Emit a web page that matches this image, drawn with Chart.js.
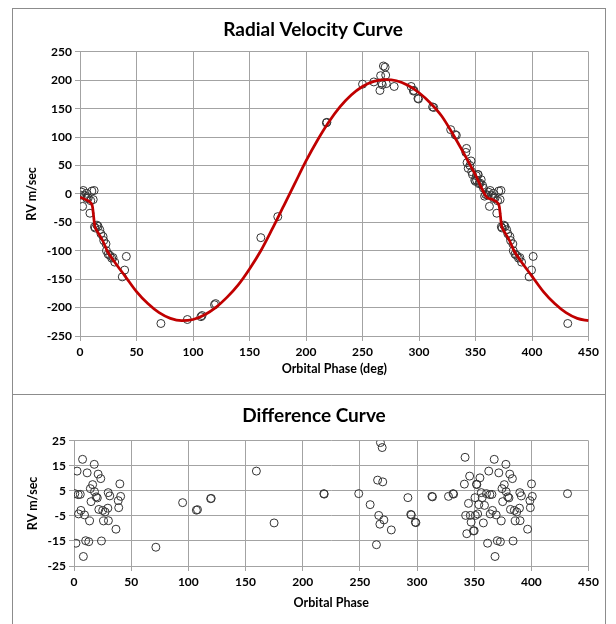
<!DOCTYPE html>
<html>
<head>
<meta charset="utf-8">
<script src="https://cdn.jsdelivr.net/npm/chart.js@4.4.1/dist/chart.umd.min.js"></script>
<style>
    html, body {
        margin: 0;
        padding: 0;
        background: #ffffff;
        width: 616px;
        height: 624px;
        overflow: hidden;
    }
    .chart-box {
        position: absolute;
        left: 12px;
        width: 592px;
        border: 1px solid #8c8c8c;
        background: #ffffff;
    }
    #top-box { top: 8px; height: 385px; }
    #bottom-box { top: 394px; height: 250px; }
    canvas { display: block; }
</style>
</head>
<body>
<div class="chart-box" id="top-box"><canvas id="rv-chart" width="590" height="384"></canvas></div>
<div class="chart-box" id="bottom-box"><canvas id="diff-chart" width="590" height="240"></canvas></div>
<script>
// Model curve
const curvePhase = [0, 5, 10, 11, 13, 16, 20, 24, 30, 40, 50, 60, 70, 80, 90, 100, 110, 120, 130, 140,
    150, 160, 170, 180, 190, 200, 210, 220, 230, 240, 250, 260, 270, 280, 290, 300, 310, 320, 330, 340,
    350, 360, 365, 370, 371, 373, 376, 380, 384, 390, 400, 410, 420, 430, 440, 450];
const curveRV = [-6, -10, -17, -22, -55, -68, -82, -100, -118, -145, -172, -193, -209, -219, -223, -221, -213, -200, -182, -160,
    -132, -100, -62, -22, 18, 58, 94, 126, 153, 174, 189, 198, 201, 199, 191, 178, 160, 137, 105, 70,
    33, -6, -10, -17, -22, -55, -68, -82, -100, -118, -145, -172, -193, -209, -219, -223];

// Observed radial velocities
const obsPhase = [0.6, 1.5, 2.3, 2.9, 4.0, 5.8, 6.0, 7.3, 8.8, 9.5, 10.5, 11.7, 12.5, 12.8, 13.5, 15.0, 16.0, 17.5, 18.5, 20.4,
    21.0, 23.0, 23.4, 24.9, 26.3, 28.0, 29.2, 30.7, 37.4, 39.5, 41.0,
    71.6, 95, 107, 108, 119, 120, 160, 175, 218, 218.5, 250, 260, 265.4, 266, 266.8, 267.5, 268.5, 270, 270.5,
    271, 278, 293, 295, 295.5, 299, 299.5, 312, 313, 328, 332, 333,
    341.4, 342, 342.5, 343.5, 345, 346, 346.6, 347.3, 349.3, 350, 350.7, 351, 352, 352.3, 353, 354, 355, 356.2, 357, 358, 359,
    360.6, 361.5, 362.3, 362.9, 364.0, 365.8, 366.0, 367.3, 368.8, 369.5, 370.5, 371.7, 372.5, 372.8, 373.5, 375.0, 376.0,
    377.5, 378.5, 380.4, 381.0, 383.0, 383.4, 384.9, 386.3, 388.0, 389.2, 390.7, 397.4, 399.5, 401.0, 431.6];
const obsRV = [-2, 3, -22, 6, -3, 1, -8, -7, -34, -12, 5, -10, 6, -58, -60, -55, -57, -63, -70, -75,
    -82, -88, -100, -106, -108, -113, -112, -120, -146, -134, -110,
    -228, -221, -216, -214, -195, -193, -77, -40, 125, 126, 193, 197, 182, 208, 195, 192, 225, 223, 209,
    194, 189, 189, 181, 182, 168, 167, 153, 152, 113, 104, 103,
    73, 80, 55, 45, 50, 58, 39, 34, 24, 22, 32, 24, 34, 34, 18, 19, 25, 15, 10, -4, -1,
    -2, 3, -22, 6, -3, 1, -8, -7, -34, -12, 5, -10, 6, -58, -60, -55, -57,
    -63, -70, -75, -82, -88, -100, -106, -108, -113, -112, -120, -146, -134, -110, -228];

// Residuals (observed - model)
const diffPhase = [0.7, 1.7, 2.7, 3.7, 4.0, 5.5, 6.0, 7.5, 8.2, 9.2, 10.2, 11.5, 12.9, 13.6, 14.3, 14.9, 16.3, 17.7, 17.9, 19.4,
    20.4, 21.1, 21.7, 23.4, 24.0, 25.1, 25.8, 27.2, 29.6, 29.9, 30.1, 31.3, 36.7, 38.7, 39.1, 40.1, 40.8,
    71.6, 95, 107, 108, 119.5, 120, 159.5, 175, 218.5, 218.8, 249, 259, 264.5, 265.5, 266.5, 267.5, 268, 269.5, 270,
    271, 277.5, 292, 294.5, 295, 298.5, 299, 313, 313.5, 327.5, 331.5, 332,
    341.4, 342, 342.5, 343.5, 345, 346, 346.6, 347.3, 349.3, 350, 350.7, 351, 352, 352.3, 353, 354, 355, 356.2, 357, 358, 359,
    360.7, 361.7, 362.7, 363.7, 364.0, 365.5, 366.0, 367.5, 368.2, 369.2, 370.2, 371.5, 372.9, 373.6, 374.3, 374.9, 376.3,
    377.7, 377.9, 379.4, 380.4, 381.1, 381.7, 383.4, 384.0, 385.1, 385.8, 387.2, 389.6, 389.9, 390.1, 391.3, 396.7, 398.7,
    399.1, 400.1, 400.8, 431.6];
const diffRV = [3.9, -15.9, 12.9, 3.5, -4.2, 3.6, -2.8, 17.6, -21.2, -4.6, -14.9, 12.2, -15.3, -7.0, 5.9, 0.7, 7.5, 15.6, 4.7, 2.6,
    2.2, 11.7, -2.4, 9.9, -15.0, -2.8, -7.0, -3.4, -1.9, 4.3, -6.9, 3.0, -10.3, 1.1, -1.7, 7.8, 2.8,
    -17.5, 0.3, -2.7, -2.5, 1.9, 2.0, 12.9, -7.8, 3.9, 3.7, 3.9, -0.5, -16.5, 9.3, -4.8, -8.3, 24.3, 22.3, 8.6,
    -6.6, -10.6, 2.3, -4.4, -4.6, -7.5, -7.7, 2.8, 2.6, 2.8, 3.9, 3.7,
    7.7, 18.4, -4.8, -12.1, 0, 10.9, -4.8, -7.5, -11, -10.9, 2.3, -4.8, 7.7, 7.5, -4.2, -0.5, 10.2, 4.3, 2.3, -7.8, -0.8,
    3.9, -15.9, 12.9, 3.5, -4.2, 3.6, -2.8, 17.6, -21.2, -4.6, -14.9, 12.2, -15.3, -7.0, 5.9, 0.7, 7.5,
    15.6, 4.7, 2.6, 2.2, 11.7, -2.4, 9.9, -15.0, -2.8, -7.0, -3.4, -1.9, 4.3, -6.9, 3.0, -10.3, 1.1,
    -1.7, 7.8, 2.8, 3.9];

// Axis ticks
const phaseTicks = { min: 0, max: 450, step: 50 };
const rvTicks = { min: -250, max: 250, step: 50 };
const diffTicks = { min: -25, max: 25, step: 10 };

const toPoints = (xs, ys) => xs.map((x, i) => ({ x: x, y: ys[i] }));

const FONT = 'Lato, "Liberation Sans", sans-serif';
const gridColor = '#a3a3a3';
const textColor = '#000000';

Chart.defaults.font.family = FONT;
Chart.defaults.color = textColor;
Chart.defaults.animation = false;

const circleStyle = {
    pointStyle: 'circle',
    pointRadius: 4,
    pointBorderWidth: 1,
    pointBorderColor: '#333333',
    pointBackgroundColor: 'rgba(0,0,0,0)',
    showLine: false
};

const xAxis = (title, height, titlePad) => ({
    type: 'linear',
    min: phaseTicks.min,
    max: phaseTicks.max,
    ticks: { stepSize: phaseTicks.step, padding: 4, font: { size: 12, weight: 'bold' }, maxRotation: 0 },
    grid: { color: gridColor, tickLength: 5, drawTicks: true },
    border: { color: gridColor },
    title: { display: true, text: title, font: { size: 12.5, weight: 'bold' }, padding: { top: 0, bottom: titlePad } },
    afterFit: scale => { scale.height = height; }
});

const yAxis = (tk, width, titlePad) => ({
    type: 'linear',
    min: tk.min,
    max: tk.max,
    ticks: { stepSize: tk.step, padding: 3, font: { size: 12, weight: 'bold' } },
    grid: { color: gridColor, tickLength: 5 },
    border: { color: gridColor },
    title: { display: true, text: 'RV m/sec', font: { size: 12.5, weight: 'bold' }, padding: { top: titlePad, bottom: 0 } },
    afterFit: scale => { scale.width = width; }
});

// Radial Velocity Curve
const rvCanvas = document.getElementById('rv-chart');
let rvChart = new Chart(rvCanvas, {
    type: 'scatter',
    data: {
        datasets: [{
            label: 'Model',
            data: toPoints(curvePhase, curveRV),
            showLine: true,
            borderColor: '#c00000',
            borderWidth: 2.75,
            pointRadius: 0,
            cubicInterpolationMode: 'monotone'
        }, Object.assign({
            label: 'Observed',
            data: toPoints(obsPhase, obsRV)
        }, circleStyle)]
    },
    options: {
        responsive: false,
        layout: { padding: { left: 10, right: 0, top: 0, bottom: 0 } },
        plugins: {
            legend: { display: false },
            tooltip: { enabled: false },
            title: {
                display: true,
                text: 'Radial Velocity Curve',
                font: { size: 19, weight: 'bold' },
                color: textColor,
                padding: { top: 9, bottom: 11 }
            }
        },
        scales: {
            x: xAxis('Orbital Phase (deg)', 57, 17),
            y: yAxis(rvTicks, 57, 1.5)
        }
    }
});

// Difference Curve
const diffCanvas = document.getElementById('diff-chart');
let diffChart = new Chart(diffCanvas, {
    type: 'scatter',
    data: {
        datasets: [Object.assign({
            label: 'Difference',
            data: toPoints(diffPhase, diffRV)
        }, circleStyle)]
    },
    options: {
        responsive: false,
        layout: { padding: { left: 12, right: 0, top: 0, bottom: 9 } },
        plugins: {
            legend: { display: false },
            tooltip: { enabled: false },
            title: {
                display: true,
                text: 'Difference Curve',
                font: { size: 19, weight: 'bold' },
                color: textColor,
                padding: { top: 9, bottom: 14 }
            }
        },
        scales: {
            x: xAxis('Orbital Phase', 60, 16),
            y: yAxis(diffTicks, 49, 0)
        }
    }
});
</script>
</body>
</html>
